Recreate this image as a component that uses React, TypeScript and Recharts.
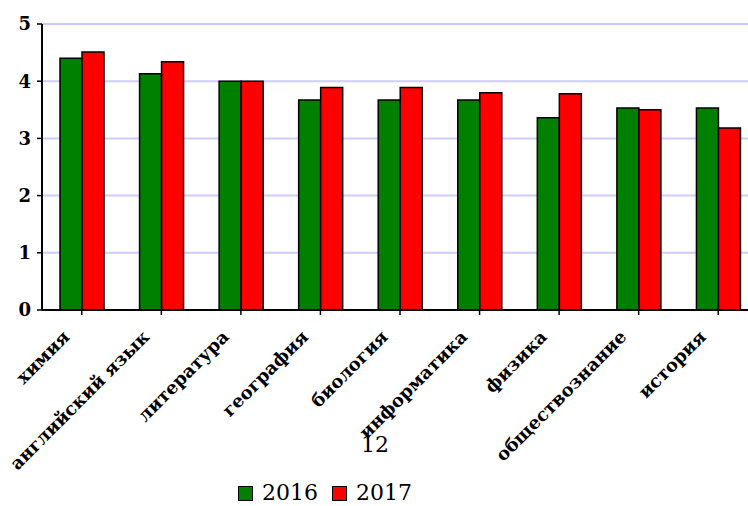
import React from "react";
import { BarChart, Bar, XAxis, YAxis, CartesianGrid } from "recharts";

const subjects = [
  "химия",
  "английский язык",
  "литература",
  "география",
  "биология",
  "информатика",
  "физика",
  "обществознание",
  "история",
];
const values2016 = [4.4, 4.13, 4.0, 3.67, 3.67, 3.67, 3.36, 3.53, 3.53];
const values2017 = [4.51, 4.34, 4.0, 3.89, 3.89, 3.8, 3.78, 3.5, 3.18];
const yTicks = [0, 1, 2, 3, 4, 5];
const seriesNames = ["2016", "2017"];
const seriesColors = ["#008000", "#ff0000"];

const data = subjects.map((name, i) => ({
  name,
  y2016: values2016[i],
  y2017: values2017[i],
}));

const serif = "DejaVu Serif";

function SubjectTick(props: any) {
  const { x, y, payload } = props;
  return (
    <g transform={`translate(${x - 11},${y + 21}) rotate(-45)`}>
      <text
        x={0}
        y={0}
        textAnchor="end"
        fontFamily={serif}
        fontWeight="bold"
        fontSize={18}
        fill="#000"
      >
        {payload.value}
      </text>
    </g>
  );
}

export default function App() {
  return (
    <div
      style={{
        position: "absolute",
        left: 0,
        top: 0,
        width: 748,
        height: 506,
        overflow: "hidden",
        background: "#fff",
      }}
    >
      <BarChart
        width={760}
        height={506}
        data={data}
        margin={{ top: 24, right: 2, left: 0, bottom: 0 }}
        barSize={22}
        barGap={0}
      >
        <CartesianGrid vertical={false} stroke="#ccccff" strokeWidth={2} />
        <XAxis
          dataKey="name"
          height={196}
          interval={0}
          axisLine={{ stroke: "#000", strokeWidth: 2 }}
          tickLine={{ stroke: "#000", strokeWidth: 1.5 }}
          tickSize={5}
          tick={<SubjectTick />}
        />
        <YAxis
          width={42}
          domain={[0, 5]}
          ticks={yTicks}
          interval={0}
          axisLine={{ stroke: "#000", strokeWidth: 2 }}
          tickLine={{ stroke: "#000", strokeWidth: 1.5 }}
          tickSize={5}
          tickMargin={6}
          tick={{ fontFamily: serif, fontWeight: "bold", fontSize: 18, fill: "#000" }}
        />
        <Bar dataKey="y2016" fill={seriesColors[0]} stroke="#000" strokeWidth={1.5} isAnimationActive={false} />
        <Bar dataKey="y2017" fill={seriesColors[1]} stroke="#000" strokeWidth={1.5} isAnimationActive={false} />
      </BarChart>
      <div
        style={{
          position: "absolute",
          left: 361,
          top: 434,
          fontFamily: serif,
          fontSize: 22,
          lineHeight: "22px",
          color: "#000",
        }}
      >
        12
      </div>
      <div
        style={{
          position: "absolute",
          left: 238,
          top: 484,
          display: "flex",
          alignItems: "center",
          fontFamily: serif,
          fontSize: 22,
          lineHeight: "18px",
          color: "#000",
        }}
      >
        {seriesNames.map((s, i) => (
          <div key={s} style={{ display: "flex", alignItems: "center", marginRight: 14 }}>
            <span
              style={{
                display: "inline-block",
                width: 13,
                height: 13,
                background: seriesColors[i],
                border: "1.5px solid #000",
                marginRight: 9,
              }}
            />
            <span>{s}</span>
          </div>
        ))}
      </div>
    </div>
  );
}
